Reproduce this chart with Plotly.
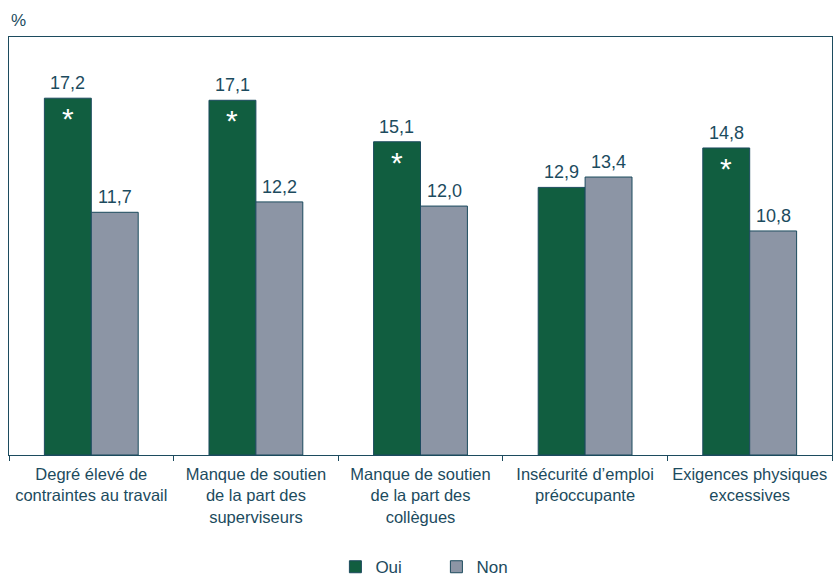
import plotly.graph_objects as go

categories = ["Degré élevé de<br>contraintes au travail",
              "Manque de soutien<br>de la part des<br>superviseurs",
              "Manque de soutien<br>de la part des<br>collègues",
              "Insécurité d’emploi<br>préoccupante",
              "Exigences physiques<br>excessives"]
oui = [17.2, 17.1, 15.1, 12.9, 14.8]
non = [11.7, 12.2, 12.0, 13.4, 10.8]
significant = [True, True, True, False, True]

GREEN = "#115e40"
GRAY = "#8c95a5"
TXT = "#1c4b5e"
FONT = "Liberation Sans, Arial, sans-serif"
HALF = 0.143  # half bar width in category units

def fmt(v):
    return f"{v:.1f}".replace(".", ",")

fig = go.Figure()
fig.add_trace(go.Bar(x=categories, y=oui, name="Oui", marker=dict(color=GREEN, line=dict(color=TXT, width=1))))
fig.add_trace(go.Bar(x=categories, y=non, name="Non", marker=dict(color=GRAY, line=dict(color=TXT, width=1))))

for i, (vo, vn, s) in enumerate(zip(oui, non, significant)):
    fig.add_annotation(x=i - HALF, y=vo, text=fmt(vo), showarrow=False, yanchor="bottom", yshift=3,
                       font=dict(size=18, color=TXT, family=FONT))
    fig.add_annotation(x=i + HALF, y=vn, text=fmt(vn), showarrow=False, yanchor="bottom", yshift=3,
                       font=dict(size=18, color=TXT, family=FONT))
    if s:
        fig.add_annotation(x=i - HALF, y=vo, text="*", showarrow=False, yanchor="top", yshift=-2,
                           font=dict(size=30, color="white", family=FONT))

fig.add_annotation(xref="paper", yref="paper", x=0.0, y=1.0, yshift=5, xanchor="left", yanchor="bottom",
                   text="%", showarrow=False, font=dict(size=17, color=TXT, family=FONT))

fig.update_layout(
    width=837, height=577, barmode="group", bargap=0.43, bargroupgap=0,
    margin=dict(l=9, r=5, t=37, b=122),
    paper_bgcolor="white", plot_bgcolor="white",
    font=dict(family=FONT, color=TXT, size=16),
    showlegend=True,
    legend=dict(orientation="h", x=0.3966, xanchor="left", yref="container", y=0.017, yanchor="middle",
                font=dict(size=17, color=TXT, family=FONT), entrywidth=56, entrywidthmode="pixels",
                itemwidth=30, traceorder="normal"),
    xaxis=dict(showline=True, linecolor=TXT, linewidth=1, mirror=True, ticks="outside", tickson="boundaries",
               ticklen=5, tickcolor=TXT, tickangle=0, automargin=False, ticklabelstandoff=4,
               tickfont=dict(size=16.5, color=TXT, family=FONT)),
    yaxis=dict(range=[0, 20.15], showline=True, linecolor=TXT, linewidth=1, mirror=True,
               showticklabels=False, showgrid=False, ticks="", zeroline=False, automargin=False),
)
fig.write_html("out.html", config={"displayModeBar": False},
               post_script="document.body.style.margin='0';")
